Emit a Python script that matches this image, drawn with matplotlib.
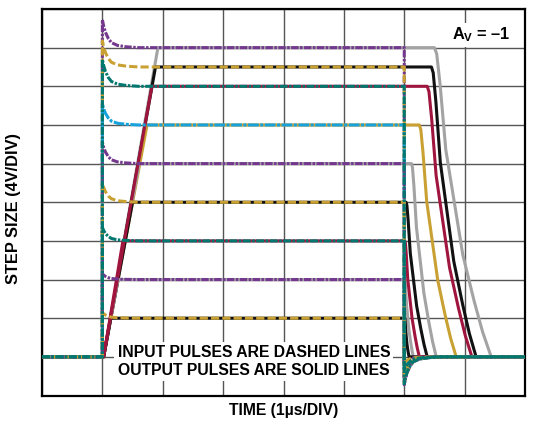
import numpy as np
import matplotlib
matplotlib.use('Agg')
from matplotlib import pyplot as plt

plt.rcParams['font.family'] = ['Liberation Sans', 'DejaVu Sans']
plt.rcParams['mathtext.fontset'] = 'custom'
plt.rcParams['mathtext.rm'] = 'Liberation Sans'
plt.rcParams['mathtext.bf'] = 'Liberation Sans:bold'

# step sizes in volts (4V/DIV), baseline at 0 V, time in us (1us/DIV)
steps_v = [32, 30, 28, 24, 20, 16, 12, 8, 4]
input_colors = ['purple', 'gold', 'teal', 'cyan', 'purple', 'gold', 'teal', 'purple', 'gold']
output_colors = ['gray', 'black', 'crimson', 'gold', 'gray', 'black', 'crimson', 'gray', 'black']
overshoot_v = [2.9, 2.7, 2.8, 2.2, 2.2, 2.0, 1.4, 0.6, 0.6]
rise_end_us = [1.92, 1.88, 1.82, 1.74, 1.61, 1.50, 1.34, 1.26, 1.14]
fall_start_us = [6.50, 6.45, 6.38, 6.25, 6.12, 6.03, 6.01, 6.01, 6.01]
fall_end_us = [7.44, 7.19, 7.12, 6.86, 6.53, 6.38, 6.25, 6.15, 6.08]

input_rise_us = 1.0
input_fall_us = 6.0
output_rise_start_us = 1.02

# input edge spike decay (time after edge in us, fraction of overshoot)
spike_t = [0, 0.02, 0.05, 0.1, 0.15, 0.25, 0.4, 0.6]
spike_f = [1, 0.78, 0.55, 0.32, 0.18, 0.08, 0.03, 0]

# output falling edge shape (fraction of fall time, fraction of step remaining)
fall_tf = [0, 0.04, 0.1, 0.2, 0.35, 0.5, 0.7, 0.85, 1.0]
fall_rem = [1, 0.98, 0.88, 0.67, 0.5, 0.33, 0.18, 0.08, 0]

draw_order = [0, 1, 3, 4, 5, 7, 8, 2, 6]

palette = {'purple': '#74388e', 'gold': '#c9a133', 'teal': '#00786f', 'cyan': '#17a2db',
           'gray': '#a3a3a3', 'black': '#111111', 'crimson': '#a0153e'}
dash_styles = {'purple': (0, (2.4, 0.5, 0.8, 0.5)), 'gold': (0, (2.7, 1.0)),
               'teal': (0, (2.6, 0.5, 0.8, 0.5)), 'cyan': (0, (3.5, 0.5, 1.0, 0.5))}

fig = plt.figure(figsize=(5.42, 4.24), dpi=100)
ax = fig.add_axes([42 / 542, 1 - 395.5 / 424, 483 / 542, 386.5 / 424])

for i in draw_order:
    t = [0, output_rise_start_us, rise_end_us[i]]
    v = [0, 0, steps_v[i]]
    for tf, r in zip(fall_tf, fall_rem):
        t.append(fall_start_us[i] + tf * (fall_end_us[i] - fall_start_us[i]))
        v.append(steps_v[i] * r)
    t.append(8)
    v.append(0)
    ax.plot(t, v, color=palette[output_colors[i]], lw=2.2, zorder=3)

for i in draw_order:
    t = [0, input_rise_us]
    v = [0, 0]
    for st, sf in zip(spike_t, spike_f):
        t.append(input_rise_us + st)
        v.append(steps_v[i] + overshoot_v[i] * sf)
    t.append(input_fall_us)
    v.append(steps_v[i])
    for st, sf in zip(spike_t, spike_f):
        t.append(input_fall_us + st)
        v.append(-overshoot_v[i] * sf)
    t.append(8)
    v.append(0)
    c = input_colors[i]
    ax.plot(t, v, color=palette[c], lw=2.2, linestyle=dash_styles[c], zorder=4)

ax.set_xlim(0, 8)
ax.set_ylim(-4, 36)
ax.set_xticks(np.arange(0, 9, 1))
ax.set_yticks(np.arange(-4, 37, 4))
ax.tick_params(length=0, labelbottom=False, labelleft=False)
ax.grid(True, color='#555555', lw=1.0)
for sp in ax.spines.values():
    sp.set_linewidth(1.6)

ax.text(3.51, -0.5, 'INPUT PULSES ARE DASHED LINES\nOUTPUT PULSES ARE SOLID LINES',
        ha='center', va='center', fontsize=11.3, fontweight='bold', linespacing=1.2,
        bbox=dict(boxstyle='square,pad=0.2', fc='white', ec='none'), zorder=6)
ax.text(7.76, 33.3, r'$\mathbf{A_V}$ = –1', ha='right', va='center', fontsize=11.8,
        fontweight='bold', bbox=dict(boxstyle='square,pad=0.15', fc='white', ec='none'), zorder=6)

fig.text(14 / 542, 1 - 208 / 424, 'STEP SIZE (4V/DIV)', rotation=90, ha='center', va='center',
         fontsize=11.8, fontweight='bold')
fig.text(284 / 542, 1 - 411 / 424, 'TIME (1µs/DIV)', ha='center', va='center',
         fontsize=11.3, fontweight='bold')

fig.savefig('out.png', dpi=100)
